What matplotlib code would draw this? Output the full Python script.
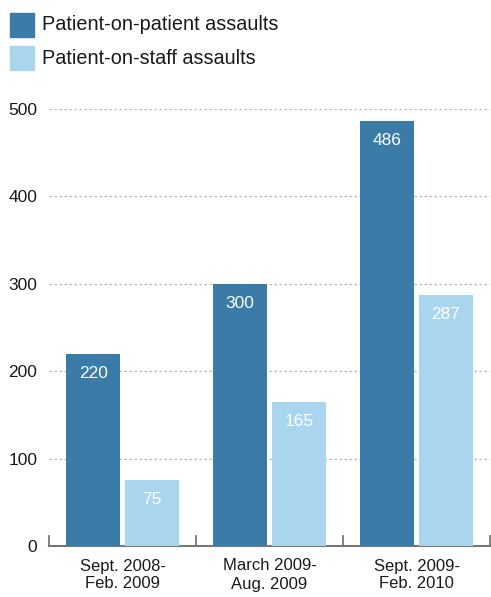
import matplotlib.pyplot as plt
import numpy as np
from matplotlib.patches import Rectangle

periods = ["Sept. 2008-\nFeb. 2009", "March 2009-\nAug. 2009", "Sept. 2009-\nFeb. 2010"]
patient_on_patient = [220, 300, 486]
patient_on_staff = [75, 165, 287]
series_names = ["Patient-on-patient assaults", "Patient-on-staff assaults"]
y_ticks = [0, 100, 200, 300, 400, 500]

dark = "#3b7ba7"
light = "#a9d5ee"

plt.rcParams['font.family'] = ['Liberation Sans', 'DejaVu Sans']

fig = plt.figure(figsize=(4.91, 5.97), dpi=100)
ax = fig.add_axes([49 / 491, 51 / 597, 441 / 491, 437 / 597])

x = np.arange(len(periods))
w = 0.37
b1 = ax.bar(x - 0.2, patient_on_patient, w, color=dark, zorder=3)
b2 = ax.bar(x + 0.2, patient_on_staff, w, color=light, zorder=3)

for bars in (b1, b2):
    for rect in bars:
        h = rect.get_height()
        ax.annotate(f"{h:.0f}", (rect.get_x() + rect.get_width() / 2, h),
                    xytext=(0, -14), textcoords="offset points", ha="center", va="center",
                    color="white", fontsize=12.5, zorder=4)

ax.set_xlim(-0.5, 2.5)
ax.set_ylim(0, 500)
ax.set_yticks(y_ticks)
ax.set_yticklabels([str(t) for t in y_ticks], fontsize=12.5, color="#1a1a1a")
ax.tick_params(axis="y", length=0, pad=8.5)
ax.set_xticks(x)
ax.set_xticklabels(periods, fontsize=12, color="#1a1a1a", linespacing=1.25)
ax.tick_params(axis="x", length=0, pad=9)

# group separator ticks
for sx in [-0.5, 0.5, 1.5, 2.5]:
    ax.plot([sx, sx], [0, 12], color="#777777", lw=1.3, clip_on=False, zorder=5)

for t in y_ticks[1:]:
    ax.axhline(t, color="#b8b8b8", lw=0.9, ls=(0, (2, 2)), zorder=1)

for s in ["top", "right", "left"]:
    ax.spines[s].set_visible(False)
ax.spines["bottom"].set_color("#777777")
ax.spines["bottom"].set_linewidth(1.5)

# legend
for i, (name, col) in enumerate(zip(series_names, [dark, light])):
    y0 = 597 - 37 - i * 33
    fig.patches.append(Rectangle((10 / 491, y0 / 597), 24 / 491, 24 / 597,
                                 transform=fig.transFigure, color=col))
    fig.text(42 / 491, (y0 + 12) / 597, name, fontsize=14.3, va="center", ha="left",
             color="#1a1a1a")

fig.savefig("out.png", dpi=100)
